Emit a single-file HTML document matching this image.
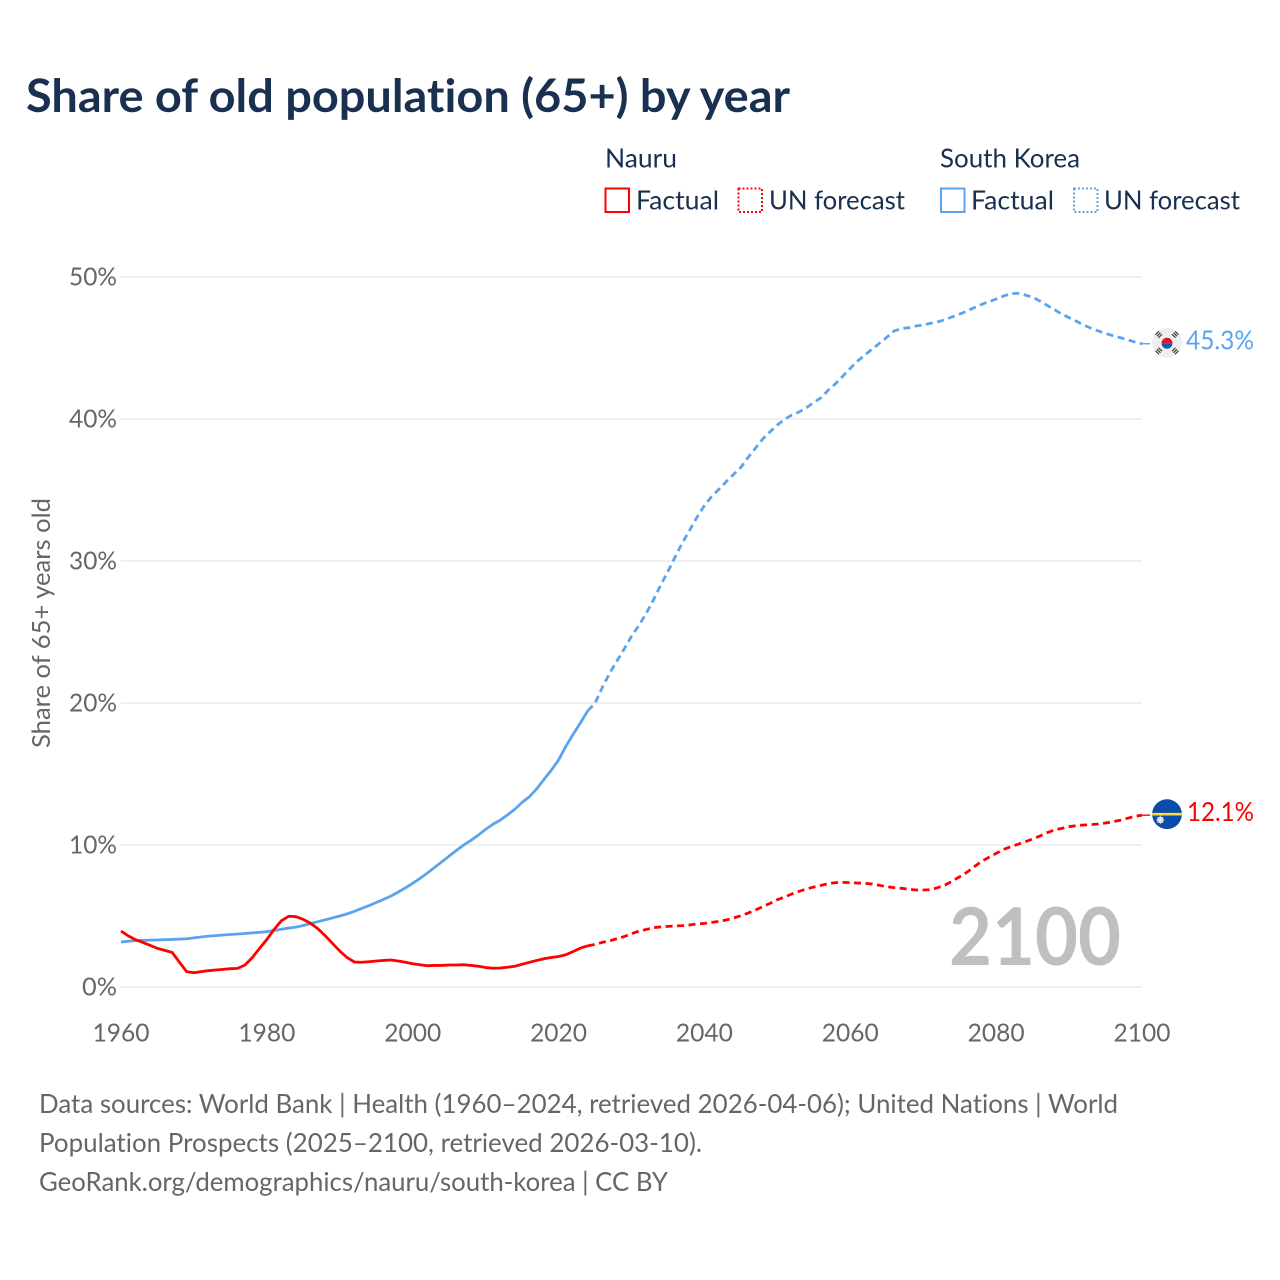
<!DOCTYPE html>
<html lang="en">
<head>
<meta charset="utf-8">
<title>Share of old population (65+) by year</title>
<style>
  html, body { margin: 0; padding: 0; background: #ffffff; }
  svg { display: block; }
  text { font-family: "Lato", "Carlito", "Liberation Sans", sans-serif; font-variant-ligatures: none; }
  .navy { fill: #1a3050; }
  .gray { fill: #666666; }
  .tick { font-size: 25px; fill: #666666; }
  .legend { font-size: 26px; fill: #1a3050; }
  .foot { font-size: 26px; fill: #666666; }
</style>
</head>
<body>
<svg id="chart" xmlns="http://www.w3.org/2000/svg" width="1280" height="1280" viewBox="0 0 1280 1280">
  <rect width="1280" height="1280" fill="#ffffff"/>
  <text class="navy" x="26" y="112" font-size="46" font-weight="700" textLength="764" lengthAdjust="spacingAndGlyphs">Share of old population (65+) by year</text>

  <g>
    <text class="legend" x="605" y="167.5" textLength="72" lengthAdjust="spacingAndGlyphs">Nauru</text>
    <rect x="605.5" y="188.5" width="23.5" height="23.5" fill="none" stroke="#ff0000" stroke-width="2"/>
    <text class="legend" x="636" y="209.5" textLength="83" lengthAdjust="spacingAndGlyphs">Factual</text>
    <rect x="738.5" y="188.5" width="23.5" height="23.5" fill="none" stroke="#ff0000" stroke-width="2" stroke-dasharray="2 2"/>
    <text class="legend" x="769" y="209.5" textLength="136" lengthAdjust="spacingAndGlyphs">UN forecast</text>

    <text class="legend" x="940" y="167.5" textLength="140" lengthAdjust="spacingAndGlyphs">South Korea</text>
    <rect x="941" y="188.5" width="23.5" height="23.5" fill="none" stroke="#5ba4ec" stroke-width="2"/>
    <text class="legend" x="971" y="209.5" textLength="83" lengthAdjust="spacingAndGlyphs">Factual</text>
    <rect x="1074" y="188.5" width="23.5" height="23.5" fill="none" stroke="#5ba4ec" stroke-width="2" stroke-dasharray="2 2"/>
    <text class="legend" x="1104" y="209.5" textLength="136" lengthAdjust="spacingAndGlyphs">UN forecast</text>
  </g>

  <g id="grid"></g>
  <g id="yticks"></g>
  <g id="xticks"></g>
  <text class="gray" transform="translate(50,748) rotate(-90)" x="0" y="0" font-size="25" textLength="250" lengthAdjust="spacingAndGlyphs">Share of 65+ years old</text>

  <text x="949" y="965" font-size="80" font-weight="700" fill="#bfbfbf" textLength="172" lengthAdjust="spacingAndGlyphs">2100</text>

  <g id="series"></g>

  <defs>
    <clipPath id="flag-clip"><circle cx="0" cy="0" r="15"/></clipPath>
  </defs>

  <g id="flag-korea">
    <g clip-path="url(#flag-clip)">
      <circle cx="0" cy="0" r="15" fill="#efefef"/>
      <path d="M-5.5 0.5 A5.5 5.5 0 0 1 5.5 0.5 Z" fill="#e8112d"/>
      <path d="M-5.5 0.5 A5.5 5.5 0 0 0 5.5 0.5 Z" fill="#0a5cb0"/>
      <g stroke="#333333" stroke-width="1.2">
        <path d="M-11.5 -8 L-8 -11.5 M-10 -6.5 L-6.5 -10 M-8.5 -5 L-5 -8.5"/>
        <path d="M11.5 -8 L8 -11.5 M10 -6.5 L6.5 -10 M8.5 -5 L5 -8.5"/>
        <path d="M-11.5 8 L-8 11.5 M-10 6.5 L-6.5 10 M-8.5 5 L-5 8.5"/>
        <path d="M11.5 8 L8 11.5 M10 6.5 L6.5 10 M8.5 5 L5 8.5"/>
      </g>
    </g>
  </g>
  <g id="flag-nauru">
    <g clip-path="url(#flag-clip)">
      <circle cx="0" cy="0" r="15" fill="#0a4da8"/>
      <rect x="-15" y="-1.3" width="30" height="2.6" fill="#ffd83d"/>
      <circle cx="-6.7" cy="5.7" r="3.2" fill="#e4e4e4"/>
      <path d="M-6.7 1.5 V9.9 M-10.9 5.7 H-2.5 M-9.7 2.7 L-3.7 8.7 M-9.7 8.7 L-3.7 2.7" stroke="#e4e4e4" stroke-width="0.8"/>
    </g>
  </g>

  <text id="label-korea" x="1186" font-size="26" fill="#5ba4ec" textLength="68" lengthAdjust="spacingAndGlyphs"></text>
  <text id="label-nauru" x="1187" font-size="26" fill="#ff0000" textLength="67" lengthAdjust="spacingAndGlyphs"></text>

  <g>
    <text class="foot" x="39" y="1113" textLength="1079" lengthAdjust="spacingAndGlyphs">Data sources: World Bank | Health (1960–2024, retrieved 2026-04-06); United Nations | World</text>
    <text class="foot" x="39" y="1152" textLength="663" lengthAdjust="spacingAndGlyphs">Population Prospects (2025–2100, retrieved 2026-03-10).</text>
    <text class="foot" x="39" y="1191" textLength="629" lengthAdjust="spacingAndGlyphs">GeoRank.org/demographics/nauru/south-korea | CC BY</text>
  </g>
</svg>

<script>
const factualStartYear = 1960;
const forecastStartYear = 2025;
const xTickYears = [1960, 1980, 2000, 2020, 2040, 2060, 2080, 2100];
const yTickValues = [0, 10, 20, 30, 40, 50];

const nauruFactual = [
  3.94,3.6,3.33,3.14,2.93,2.72,2.58,2.44,1.76,1.08,
  1.0,1.08,1.15,1.2,1.24,1.29,1.31,1.55,2.07,2.72,
  3.35,4.06,4.67,4.98,4.95,4.76,4.48,4.1,3.61,3.07,
  2.53,2.07,1.76,1.74,1.78,1.83,1.87,1.9,1.83,1.74,
  1.64,1.57,1.5,1.52,1.52,1.55,1.55,1.57,1.52,1.46,
  1.37,1.32,1.34,1.39,1.46,1.6,1.74,1.87,1.99,2.08,
  2.15,2.27,2.5,2.74,2.9
];
const nauruForecast = [
  3.0,3.14,3.25,3.4,3.55,3.75,3.93,4.05,4.18,4.23,
  4.27,4.3,4.32,4.37,4.44,4.48,4.55,4.62,4.72,4.86,
  5.02,5.21,5.42,5.66,5.89,6.15,6.34,6.55,6.74,6.9,
  7.04,7.16,7.28,7.35,7.37,7.35,7.32,7.3,7.25,7.16,
  7.07,7.0,6.95,6.88,6.83,6.83,6.85,7.0,7.18,7.46,
  7.77,8.08,8.47,8.85,9.13,9.41,9.69,9.88,10.05,10.23,
  10.42,10.63,10.87,11.06,11.17,11.29,11.36,11.41,11.43,11.48,
  11.55,11.64,11.74,11.88,12.02,12.1
];
const koreaFactual = [
  3.17,3.22,3.27,3.28,3.3,3.31,3.33,3.35,3.37,3.4,
  3.46,3.52,3.58,3.62,3.66,3.7,3.73,3.77,3.81,3.85,
  3.9,3.98,4.07,4.15,4.22,4.33,4.47,4.6,4.73,4.87,
  5.0,5.15,5.33,5.53,5.73,5.95,6.17,6.4,6.68,6.98,
  7.3,7.65,8.02,8.42,8.82,9.22,9.62,10.0,10.33,10.7,
  11.1,11.46,11.75,12.12,12.52,13.0,13.4,13.95,14.62,15.26,
  15.99,16.95,17.8,18.6,19.45
];
const koreaForecast = [
  19.98,21.1,22.1,22.96,23.8,24.7,25.45,26.3,27.25,28.3,
  29.27,30.3,31.3,32.2,33.1,33.9,34.55,35.05,35.6,36.1,
  36.6,37.3,37.95,38.6,39.1,39.58,39.98,40.28,40.5,40.8,
  41.17,41.5,42.04,42.5,43.03,43.57,44.08,44.5,44.93,45.33,
  45.75,46.2,46.36,46.43,46.55,46.62,46.74,46.85,46.99,47.2,
  47.39,47.6,47.84,48.07,48.26,48.45,48.66,48.83,48.85,48.73,
  48.57,48.31,48.0,47.7,47.39,47.14,46.88,46.62,46.39,46.2,
  46.03,45.87,45.73,45.59,45.42,45.3
];

const NS = 'http://www.w3.org/2000/svg';
const xScale = function (year) { return 121 + (year - 1960) * (1142 - 121) / 140; };
const yScale = function (v) { return 987 - v * (987 - 277) / 50; };

const gridGroup = document.getElementById('grid');
const yTickGroup = document.getElementById('yticks');
const xTickGroup = document.getElementById('xticks');
const seriesGroup = document.getElementById('series');

yTickValues.forEach(function (v) {
  const line = document.createElementNS(NS, 'line');
  
  
  line.setAttribute('x1', xScale(1960));
  line.setAttribute('x2', xScale(2100));
  line.setAttribute('y1', yScale(v));
  line.setAttribute('y2', yScale(v));
  line.setAttribute('stroke', '#ececec');
  line.setAttribute('stroke-width', '1.5');
  gridGroup.appendChild(line);

  const label = document.createElementNS(NS, 'text');
  
  
  label.setAttribute('class', 'tick');
  label.setAttribute('x', 117);
  label.setAttribute('y', yScale(v) + 8.5);
  label.setAttribute('text-anchor', 'end');
  label.setAttribute('textLength', v === 0 ? 35 : 48);
  label.setAttribute('lengthAdjust', 'spacingAndGlyphs');
  label.textContent = v + '%';
  yTickGroup.appendChild(label);
});

xTickYears.forEach(function (year) {
  const label = document.createElementNS(NS, 'text');
  
  
  label.setAttribute('class', 'tick');
  label.setAttribute('x', xScale(year));
  label.setAttribute('y', 1041.5);
  label.setAttribute('text-anchor', 'middle');
  label.setAttribute('textLength', 57);
  label.setAttribute('lengthAdjust', 'spacingAndGlyphs');
  label.textContent = year;
  xTickGroup.appendChild(label);
});

function pointsFrom(values, startYear) {
  return values.map(function (v, i) {
    return xScale(startYear + i).toFixed(2) + ',' + yScale(v).toFixed(2);
  });
}

function drawSeries(factual, forecast, color, key) {
  const solidPts = pointsFrom(factual, factualStartYear);
  const dashedPts = pointsFrom(forecast, forecastStartYear);
  dashedPts.unshift(solidPts[solidPts.length - 1]);

  const dashed = document.createElementNS(NS, 'polyline');
  
  
  dashed.setAttribute('points', dashedPts.join(' '));
  dashed.setAttribute('fill', 'none');
  dashed.setAttribute('stroke', color);
  dashed.setAttribute('stroke-width', '2.8');
  dashed.setAttribute('stroke-dasharray', '7 4.5');
  seriesGroup.appendChild(dashed);

  const solid = document.createElementNS(NS, 'polyline');
  
  
  solid.setAttribute('points', solidPts.join(' '));
  solid.setAttribute('fill', 'none');
  solid.setAttribute('stroke', color);
  solid.setAttribute('stroke-width', '2.8');
  solid.setAttribute('stroke-linejoin', 'round');
  seriesGroup.appendChild(solid);

  const lastValue = forecast[forecast.length - 1];
  const connector = document.createElementNS(NS, 'line');
  
  
  connector.setAttribute('x1', xScale(2100) - 1);
  connector.setAttribute('x2', xScale(2100) + 8);
  connector.setAttribute('y1', yScale(lastValue));
  connector.setAttribute('y2', yScale(lastValue));
  connector.setAttribute('stroke', color);
  connector.setAttribute('stroke-width', '1.4');
  seriesGroup.appendChild(connector);

  const flag = document.getElementById(key === 'nauru' ? 'flag-nauru' : 'flag-korea');
  flag.setAttribute('transform', 'translate(1167,' + (yScale(lastValue) - 1) + ')');

  const endLabel = document.getElementById(key === 'nauru' ? 'label-nauru' : 'label-korea');
  endLabel.setAttribute('y', yScale(lastValue) + 6);
  endLabel.textContent = lastValue.toFixed(1) + '%';
}

drawSeries(koreaFactual, koreaForecast, '#5ba4ec', 'south-korea');
drawSeries(nauruFactual, nauruForecast, '#ff0000', 'nauru');
</script>
</body>
</html>
